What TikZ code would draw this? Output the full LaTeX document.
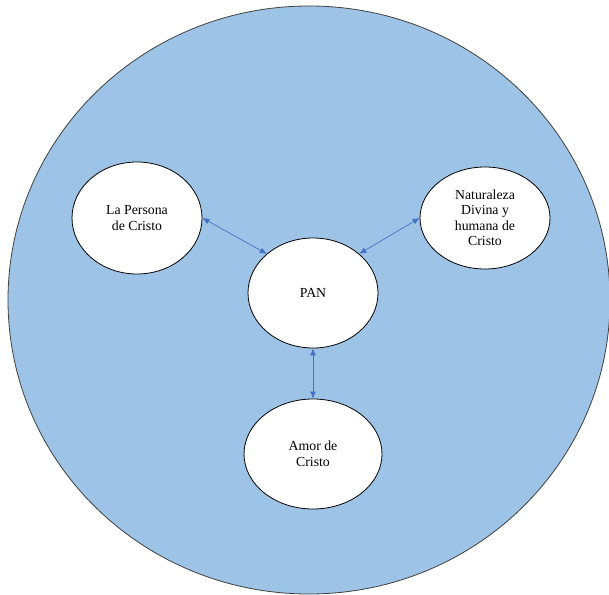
\documentclass[tikz,border=0pt]{standalone}
\usepackage{fontspec}
\setmainfont{Liberation Serif}
\usetikzlibrary{shapes.geometric,arrows.meta}
\definecolor{fondo}{HTML}{9DC3E6}
\definecolor{flecha}{HTML}{4472C4}
\begin{document}
\begin{tikzpicture}[x=1pt,y=1pt]
  \tikzset{bubble/.style={shape=ellipse,draw=black,fill=white,line width=0.8pt,inner sep=0pt,align=center,font=\fontsize{13.8}{15.5}\selectfont}};
  \tikzset{link/.style={draw=flecha,line width=0.7pt,{Latex[length=7pt,width=6pt]}-{Latex[length=7pt,width=6pt]}}};
  \useasboundingbox (0,0) rectangle (609,594);
  \draw[fill=fondo,draw=black!75,line width=0.8pt] (309,294) ellipse [x radius=301,y radius=294];
  \node[bubble,minimum width=130,minimum height=112](Per) at (137,376){La Persona\\de Cristo};
  \node[bubble,minimum width=130,minimum height=102](Nat) at (485,376){Naturaleza\\Divina y\\humana de\\Cristo};
  \node[bubble,minimum width=130,minimum height=110](Pan) at (313,301){PAN};
  \node[bubble,minimum width=138,minimum height=110](Amor) at (313,140){Amor de\\Cristo};
  \draw[link] (Per.east) -- (Pan.north west);
  \draw[link] (Nat.west) -- (Pan.north east);
  \draw[link] (Pan.south) -- (Amor.north);
\end{tikzpicture}
\end{document}
